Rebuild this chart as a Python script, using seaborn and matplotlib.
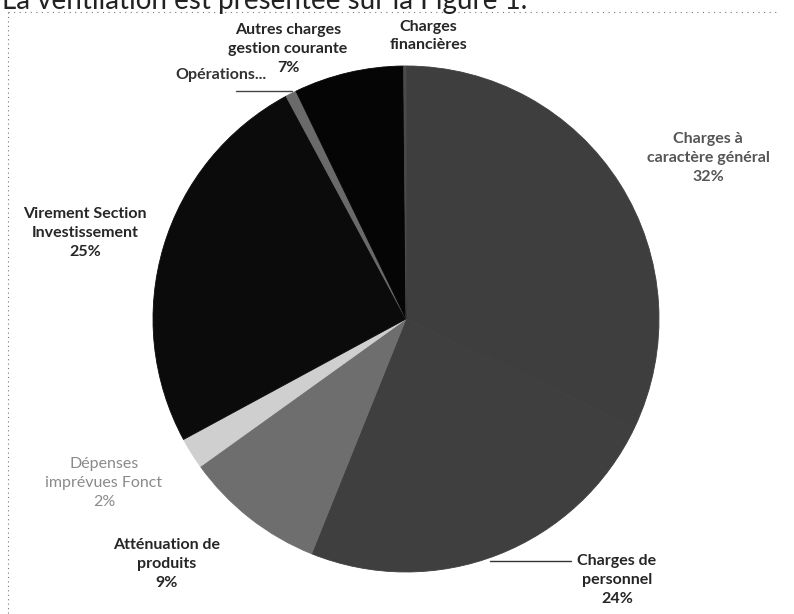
import matplotlib.pyplot as plt
import seaborn as sns

# Données (répartition des dépenses de fonctionnement, %)
postes = ["Charges à caractère général", "Charges de personnel", "Atténuation de produits",
          "Dépenses imprévues Fonct", "Virement Section Investissement", "Opérations...",
          "Autres charges gestion courante", "Charges financières"]
parts = [32, 24, 9, 2, 25, 0.7, 7, 0.15]
couleurs = ["#3e3e3e", "#3f3f3f", "#6e6e6e", "#cfcfcf", "#0b0b0b", "#6a6a6a", "#050505", "#4a4a4a"]

sns.set_theme(style="white")
plt.rcParams['font.family'] = ['Lato', 'DejaVu Sans']

fig = plt.figure(figsize=(7.94, 6.14), dpi=100)
ax = fig.add_axes([0, 0, 1, 1])

# le camembert (coordonnées en pixels, y négatif vers le bas)
wedges, _ = ax.pie(parts, colors=couleurs, startangle=90, counterclock=False,
                   center=(406, -319), radius=253)
for w, c in zip(wedges, couleurs):
    w.set_edgecolor(c)
    w.set_linewidth(0.6)

# pie() impose ses propres limites : on les remet après
ax.set_xlim(0, 794)
ax.set_ylim(-614, 0)
ax.set_aspect('equal')
ax.axis('off')

# texte du document coupé en haut
ax.text(2, -9, "La ventilation est présentée sur la Figure 1.", fontsize=20,
        color="#222222", ha="left", va="baseline")
# cadre pointillé
ax.plot([8, 780], [-12, -12], ls=(0, (1, 4)), color="#777777", lw=0.8)
ax.plot([8, 8], [-12, -614], ls=(0, (1, 3)), color="#777777", lw=0.8)

kw = dict(fontsize=11.5, fontweight="bold", ha="center", va="center", linespacing=1.45)
ax.text(288, -49, "Autres charges\ngestion courante\n7%", **kw)
ax.text(428, -36, "Charges\nfinancières", **kw)
ax.text(708, -158, "Charges à\ncaractère général\n32%", color="#555555", **kw)
ax.text(85, -233, "Virement Section\nInvestissement\n25%", **kw)
ax.text(104, -483, "Dépenses\nimprévues Fonct\n2%", fontsize=11.5, color="#8a8a8a",
        ha="center", va="center", linespacing=1.45)
ax.text(167, -564, "Atténuation de\nproduits\n9%", **kw)
ax.text(617, -580, "Charges de\npersonnel\n24%", **kw)
ax.text(266, -75, "Opérations...", fontsize=11.5, fontweight="bold", color="#333333",
        ha="right", va="center")

# lignes de rappel
ax.plot([236, 292], [-91, -91], color="#444444", lw=1)
ax.plot([490, 571], [-561, -561], color="#333333", lw=1)

fig.savefig("out.png", dpi=100)
